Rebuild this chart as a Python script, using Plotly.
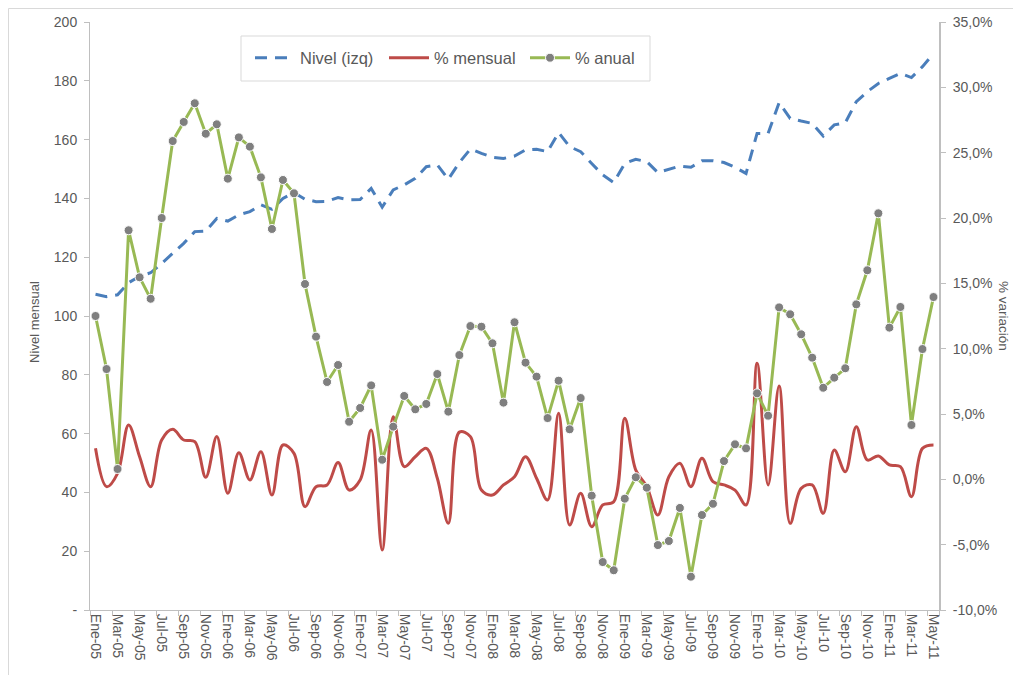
import plotly.graph_objects as go

# ---- Data ----
abrev = ["Ene", "Feb", "Mar", "Abr", "May", "Jun", "Jul", "Ago", "Sep", "Oct", "Nov", "Dic"]
meses = [f"{m}-{y:02d}" for y in range(5, 12) for m in abrev][:77]

nivel = [107.4, 106.6, 107.2, 111.3, 113.5, 114.7, 117.9, 121.3, 124.7, 128.7,
         128.9, 133.2, 132.3, 134.4, 135.5, 137.8, 136.3, 140.0, 142.0, 139.7,
         138.9, 139.0, 140.3, 139.5, 139.6, 143.4, 137.0, 142.9, 144.6, 146.8,
         150.8, 151.4, 146.5, 152.2, 156.8, 155.3, 154.0, 153.6, 154.4, 156.5,
         156.7, 155.9, 162.4, 157.6, 155.9, 151.9, 148.0, 145.4, 151.9, 153.3,
         152.5, 148.8, 149.9, 151.0, 150.6, 152.8, 152.8, 152.2, 150.6, 148.5,
         162.1, 162.1, 172.6, 167.2, 166.3, 165.5, 161.2, 165.0, 165.7, 172.9,
         176.3, 179.1, 180.8, 182.5, 181.1, 184.8, 189.3]

pct_mensual = [2.37, -0.56, 0.46, 4.16, 1.73, -0.56, 3.01, 3.83, 3.01, 2.88,
               0.16, 3.27, -1.07, 2.04, -0.05, 2.11, -1.20, 2.63, 1.99, -2.09,
               -0.56, -0.43, 1.28, -0.82, -0.05, 3.78, -5.41, 4.79, 0.97, 1.73,
               2.37, 0.08, -3.37, 3.61, 3.27, -0.82, -1.20, -0.43, 0.20, 1.73,
               0.08, -1.58, 5.05, -3.49, -1.07, -3.62, -1.96, -1.71, 4.67, 0.71,
               -0.56, -2.73, 0.20, 1.23, -0.56, 1.61, -0.18, -0.43, -0.82, -1.96,
               8.88, -0.43, 7.14, -3.37, -0.69, -0.43, -2.60, 2.24, 0.58, 4.03,
               1.48, 1.79, 1.10, 0.97, -1.33, 2.37, 2.63]

pct_anual = [12.50, 8.44, 0.79, 19.06, 15.46, 13.82, 20.00, 25.89, 27.35, 28.78,
             26.45, 27.17, 23.01, 26.17, 25.46, 23.11, 19.16, 22.91, 21.89, 14.95,
             10.92, 7.45, 8.75, 4.41, 5.46, 7.19, 1.50, 4.03, 6.38, 5.36,
             5.77, 8.06, 5.18, 9.51, 11.73, 11.68, 10.41, 5.87, 12.02, 8.93,
             7.86, 4.69, 7.55, 3.83, 6.22, -1.25, -6.33, -6.96, -1.48, 0.16,
             -0.64, -5.03, -4.72, -2.19, -7.45, -2.73, -1.87, 1.40, 2.68, 2.37,
             6.58, 4.87, 13.16, 12.63, 11.10, 9.31, 7.01, 7.78, 8.50, 13.39,
             16.00, 20.36, 11.61, 13.19, 4.16, 9.97, 13.95]

left_ticks = [0, 20, 40, 60, 80, 100, 120, 140, 160, 180, 200]
left_labels = ["-", "20", "40", "60", "80", "100", "120", "140", "160", "180", "200"]
right_ticks = [-10, -5, 0, 5, 10, 15, 20, 25, 30, 35]
right_labels = ["-10,0%", "-5,0%", "0,0%", "5,0%", "10,0%", "15,0%", "20,0%", "25,0%", "30,0%", "35,0%"]

# ---- Figure ----
xs = list(range(len(meses)))
TXT = "#595959"
AX = "#BFBFBF"
FONT = "Liberation Sans, Arial, sans-serif"

# the page body has an 8px margin, so the figure is sized/placed to compensate
W, H = 1013, 667
ML, MT = 82, 14
PW, PH = 849, 588
MR, MB = W - ML - PW, H - MT - PH
X0, Y0 = 90, 610  # page position of plot-area bottom-left


def px(x):
    return (x - X0) / PW


def py(y):
    return (Y0 - y) / PH


fig = go.Figure()
fig.add_trace(go.Scatter(
    x=xs, y=nivel, name="Nivel (izq)", mode="lines", yaxis="y", legend="legend",
    line=dict(color="#4A7EBB", width=3, dash="12px,8px")))
fig.add_trace(go.Scatter(
    x=xs, y=pct_mensual, name="% mensual", mode="lines", yaxis="y2", legend="legend2",
    line=dict(color="#BE4B48", width=3, shape="spline", smoothing=1)))
fig.add_trace(go.Scatter(
    x=xs, y=pct_anual, name="% anual", mode="lines+markers", yaxis="y2", legend="legend3",
    line=dict(color="#98B954", width=3),
    marker=dict(color="#7F7F7F", size=9, line=dict(color="white", width=1))))

leg_common = dict(orientation="h", xanchor="left", yanchor="middle", y=py(58),
                  borderwidth=0, bgcolor="rgba(0,0,0,0)",
                  font=dict(size=16.5, color=TXT), itemwidth=40)

fig.update_layout(
    width=W, height=H,
    margin=dict(l=ML, r=MR, t=MT, b=MB, autoexpand=False),
    paper_bgcolor="white", plot_bgcolor="white",
    font=dict(family=FONT, color=TXT, size=14),
    showlegend=True,
    legend=dict(x=px(250), **leg_common),
    legend2=dict(x=px(384), **leg_common),
    legend3=dict(x=px(525), **leg_common),
    xaxis=dict(range=[-0.5, len(meses) - 0.5], tickmode="array",
               tickvals=xs[::2], ticktext=meses[::2], tickangle=90,
               ticks="", showline=True, linecolor=AX, linewidth=1,
               showgrid=False, zeroline=False, tickfont=dict(size=14, color=TXT),
               minor=dict(tickmode="array", tickvals=[v - 0.5 for v in xs[::2]] + [len(meses) - 0.5],
                          ticks="outside", ticklen=5, tickcolor=AX, showgrid=False)),
    yaxis=dict(range=[0, 200], tickmode="array", tickvals=left_ticks, ticktext=left_labels,
               ticks="outside", ticklen=5, tickcolor=AX, showline=True, linecolor=AX,
               showgrid=False, zeroline=False, tickfont=dict(size=14, color=TXT),
               ticklabelstandoff=4),
    yaxis2=dict(range=[-10, 35], overlaying="y", side="right", tickmode="array",
                tickvals=right_ticks, ticktext=right_labels,
                ticks="outside", ticklen=5, tickcolor=AX, showline=True, linecolor=AX,
                linewidth=2, showgrid=False, zeroline=False,
                tickfont=dict(size=14, color=TXT), ticklabelstandoff=4),
    annotations=[
        dict(text="Nivel mensual", xref="paper", yref="paper", x=px(35), y=0.49,
             textangle=-90, showarrow=False, font=dict(size=13, color=TXT),
             xanchor="center", yanchor="middle"),
        dict(text="% variación", xref="paper", yref="paper", x=px(1004), y=0.50,
             textangle=90, showarrow=False, font=dict(size=13.5, color=TXT),
             xanchor="center", yanchor="middle"),
    ],
    shapes=[
        dict(type="rect", xref="paper", yref="paper",
             x0=px(8.5), x1=px(1016), y0=py(700), y1=py(8.5),
             line=dict(color="#D9D9D9", width=1), fillcolor="rgba(0,0,0,0)", layer="below"),
        dict(type="rect", xref="paper", yref="paper",
             x0=px(241), x1=px(650), y0=py(81), y1=py(36),
             line=dict(color="#D9D9D9", width=1), fillcolor="white", layer="below"),
    ],
)

fig.write_html("out.html")
